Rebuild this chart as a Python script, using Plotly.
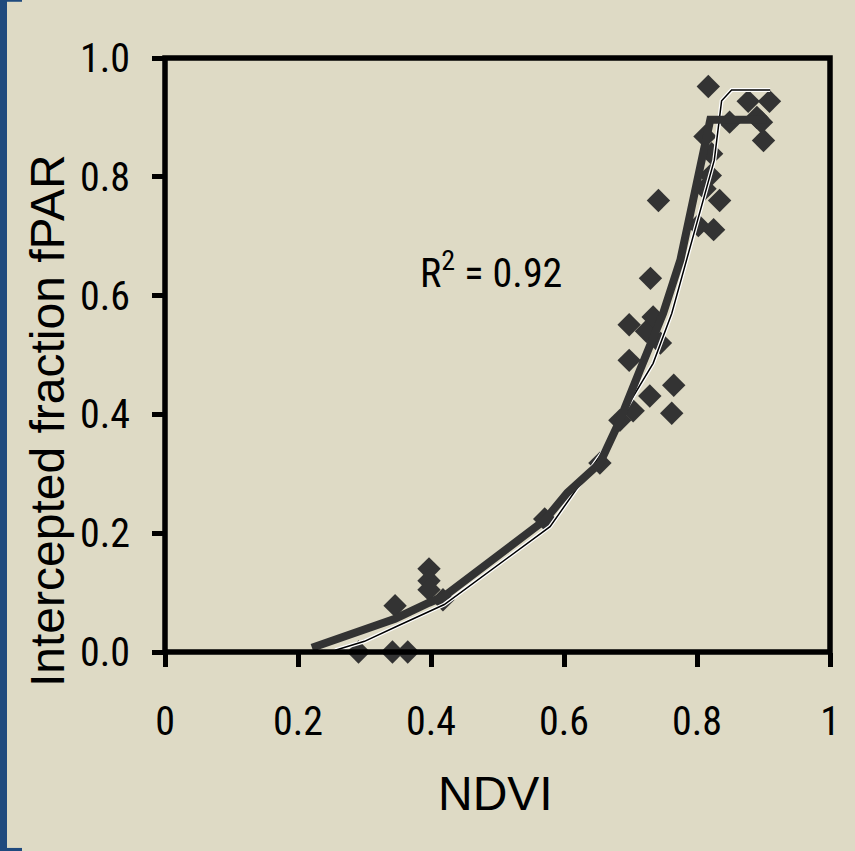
import plotly.graph_objects as go

# ---- data ----
ndvi = [0.291, 0.342, 0.365, 0.346, 0.397, 0.397, 0.397, 0.418, 0.571, 0.654,
        0.684, 0.704, 0.729, 0.765, 0.762, 0.698, 0.698, 0.724, 0.734, 0.745,
        0.730, 0.742, 0.802, 0.825, 0.834, 0.812, 0.820, 0.822, 0.812, 0.817,
        0.849, 0.877, 0.909, 0.890, 0.897, 0.900]
fpar = [0.000, 0.000, 0.000, 0.078, 0.140, 0.120, 0.105, 0.088, 0.224, 0.318,
        0.390, 0.406, 0.431, 0.449, 0.402, 0.491, 0.551, 0.540, 0.564, 0.520,
        0.629, 0.760, 0.718, 0.711, 0.760, 0.780, 0.802, 0.839, 0.868, 0.952,
        0.892, 0.927, 0.927, 0.900, 0.892, 0.861]

fit_thick_x = [0.221, 0.290, 0.346, 0.397, 0.420, 0.571, 0.605, 0.654, 0.684,
               0.714, 0.749, 0.775, 0.800, 0.820, 0.905]
fit_thick_y = [0.007, 0.033, 0.056, 0.083, 0.094, 0.222, 0.268, 0.318, 0.390,
               0.474, 0.570, 0.660, 0.800, 0.896, 0.896]

fit_thin_x = [0.256, 0.300, 0.348, 0.420, 0.579, 0.664, 0.689, 0.734, 0.762,
              0.784, 0.826, 0.837, 0.852, 0.910]
fit_thin_y = [0.003, 0.018, 0.043, 0.080, 0.211, 0.346, 0.402, 0.486, 0.570,
              0.660, 0.828, 0.928, 0.946, 0.946]

x_ticks = [0, 0.2, 0.4, 0.6, 0.8, 1]
x_tick_text = ["0", "0.2", "0.4", "0.6", "0.8", "1"]
y_ticks = [0, 0.2, 0.4, 0.6, 0.8, 1.0]
y_tick_text = ["0.0", "0.2", "0.4", "0.6", "0.8", "1.0"]

BG = "#dedac5"
DARK = "#333333"
NARROW = "Liberation Sans Narrow, Arial Narrow, Roboto Condensed, sans-serif"
REG = "Liberation Sans, Arial, sans-serif"

fig = go.Figure()
fig.add_trace(go.Scatter(x=ndvi, y=fpar, mode="markers",
                         marker=dict(symbol="diamond", size=18, color=DARK),
                         showlegend=False, cliponaxis=False))
fig.add_trace(go.Scatter(x=fit_thin_x, y=fit_thin_y, mode="lines",
                         line=dict(color="white", width=4),
                         showlegend=False))
fig.add_trace(go.Scatter(x=fit_thin_x, y=fit_thin_y, mode="lines",
                         line=dict(color="black", width=1.5),
                         showlegend=False))
fig.add_trace(go.Scatter(x=fit_thick_x, y=fit_thick_y, mode="lines",
                         line=dict(color=DARK, width=8),
                         showlegend=False))

L, R, T, B = 165, 25, 57.5, 198.7
W, H = 855, 851
pw = W - L - R
ph = H - T - B

def px_x(p):
    return (p - L) / pw

def px_y(p):
    return (H - B - p) / ph

fig.update_layout(
    width=W, height=H,
    margin=dict(l=L, r=R, t=T, b=B),
    paper_bgcolor=BG, plot_bgcolor=BG,
    xaxis=dict(range=[0, 1], tickvals=x_ticks, ticktext=x_tick_text,
               showgrid=False, zeroline=False, showline=False,
               ticks="outside", ticklen=14, tickwidth=5, tickcolor="black",
               ticklabelstandoff=20,
               tickfont=dict(family=NARROW, size=40, color="black")),
    yaxis=dict(range=[0, 1], tickvals=y_ticks, ticktext=y_tick_text,
               showgrid=False, zeroline=False, showline=False,
               ticks="outside", ticklen=12, tickwidth=5, tickcolor="black",
               ticklabelstandoff=14,
               tickfont=dict(family=NARROW, size=40, color="black")),
    shapes=[
        dict(type="rect", xref="paper", yref="paper", x0=0, x1=1, y0=0, y1=1,
             line=dict(color="black", width=5.5), layer="above"),
        dict(type="rect", xref="paper", yref="paper",
             x0=px_x(0), x1=px_x(7), y0=px_y(852), y1=px_y(-1),
             line=dict(width=0), fillcolor="#1f4a7e"),
        dict(type="rect", xref="paper", yref="paper",
             x0=px_x(0), x1=px_x(22), y0=px_y(1.2), y1=px_y(-1),
             line=dict(width=0), fillcolor="#1f4a7e"),
        dict(type="rect", xref="paper", yref="paper",
             x0=px_x(0), x1=px_x(22), y0=px_y(852), y1=px_y(848.5),
             line=dict(width=0), fillcolor="#1f4a7e"),
    ],
    annotations=[
        dict(text="R<sup>2</sup> = 0.92", xref="x", yref="y",
             x=(491 - L) / pw, y=(H - B - 270) / ph, showarrow=False,
             xanchor="center", yanchor="middle",
             font=dict(family=NARROW, size=40, color="black")),
        dict(text="NDVI", xref="paper", yref="paper",
             x=px_x(495), y=px_y(794), showarrow=False,
             xanchor="center", yanchor="middle",
             font=dict(family=REG, size=48, color="black")),
        dict(text="Intercepted fraction fPAR", xref="paper", yref="paper",
             x=px_x(47), y=px_y(421), showarrow=False, textangle=-90,
             xanchor="center", yanchor="middle",
             font=dict(family=REG, size=48, color="black")),
    ],
)

fig.write_html("out.html")
